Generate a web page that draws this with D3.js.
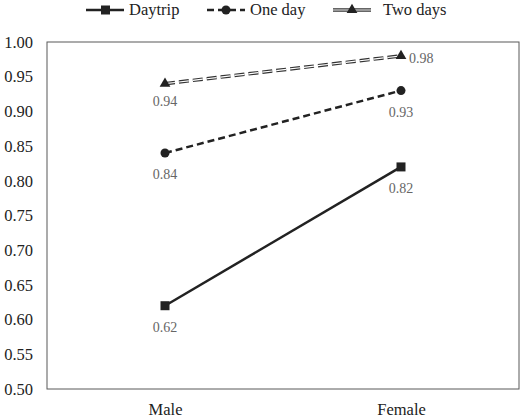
<!DOCTYPE html>
<html><head><meta charset="utf-8">
<script src="https://cdn.jsdelivr.net/npm/d3@7"></script>
<style>body{margin:0;background:#fff}text{font-family:"Liberation Serif","DejaVu Serif",serif}</style>
</head><body><div id="chart"></div>
<script>
const categories = ["Male", "Female"];
const seriesNames = ["Daytrip", "One day", "Two days"];
const daytrip = [0.62, 0.82];
const oneDay = [0.84, 0.93];
const twoDays = [0.94, 0.98];
const yTicks = [0.50, 0.55, 0.60, 0.65, 0.70, 0.75, 0.80, 0.85, 0.90, 0.95, 1.00];

const width = 520, height = 418;
const margin = { top: 42, right: 1, bottom: 29, left: 47 };
const svg = d3.select("#chart").append("svg").attr("width", width).attr("height", height);
const x = d3.scalePoint().domain(categories).range([margin.left, width - margin.right]).padding(0.5);
const y = d3.scaleLinear().domain([0.5, 1]).range([height - margin.bottom, margin.top]);

// frame
svg.append("rect").attr("x", margin.left).attr("y", margin.top)
  .attr("width", width - margin.left - margin.right).attr("height", y(0.5) - y(1))
  .attr("fill", "none").attr("stroke", "#595959").attr("stroke-width", 1);

const yAxis = svg.append("g").attr("transform", `translate(${margin.left},0)`)
  .call(d3.axisLeft(y).tickValues(yTicks).tickFormat(d3.format(".2f")).tickSize(0).tickPadding(14));
yAxis.select(".domain").remove();
yAxis.selectAll("text").attr("font-size", 16.5).attr("fill", "#222");

const xAxis = svg.append("g").attr("transform", `translate(0,${y(0.5)})`)
  .call(d3.axisBottom(x).tickSize(0).tickPadding(14));
xAxis.select(".domain").remove();
xAxis.selectAll("text").attr("font-size", 16.5).attr("fill", "#222");

const line = d3.line().x((d, i) => x(categories[i])).y(d => y(d));

// Daytrip
svg.append("path").datum(daytrip).attr("d", line).attr("fill", "none").attr("stroke", "#222").attr("stroke-width", 2.5);
svg.selectAll("rect.sq").data(daytrip).join("rect").attr("class", "sq")
  .attr("x", (d, i) => x(categories[i]) - 4.5).attr("y", d => y(d) - 4.5)
  .attr("width", 9).attr("height", 9).attr("fill", "#222");

// One day
svg.append("path").datum(oneDay).attr("d", line).attr("fill", "none").attr("stroke", "#222")
  .attr("stroke-width", 2.5).attr("stroke-dasharray", "7,4");
svg.selectAll("circle.od").data(oneDay).join("circle").attr("class", "od")
  .attr("cx", (d, i) => x(categories[i])).attr("cy", d => y(d)).attr("r", 4.5).attr("fill", "#222");

// Two days (double line)
svg.append("path").datum(twoDays).attr("d", line).attr("fill", "none").attr("stroke", "#333")
  .attr("stroke-width", 3.5).attr("stroke-dasharray", "10,4");
svg.append("path").datum(twoDays).attr("d", line).attr("fill", "none").attr("stroke", "#fff")
  .attr("stroke-width", 1.2).attr("stroke-dasharray", "10,4");
const tri = d3.symbol().type(d3.symbolTriangle).size(50);
svg.selectAll("path.tri").data(twoDays).join("path").attr("class", "tri").attr("d", tri)
  .attr("transform", (d, i) => `translate(${x(categories[i])},${y(d)})`).attr("fill", "#222");

// data labels
const labelPos = [
  { data: daytrip, dx: [0, 0], dy: [26, 26] },
  { data: oneDay, dx: [0, 0], dy: [26, 26] },
  { data: twoDays, dx: [0, 8], dy: [22, 7] }
];
labelPos.forEach(s => {
  s.data.forEach((v, i) => {
    svg.append("text").attr("x", x(categories[i]) + s.dx[i]).attr("y", y(v) + s.dy[i])
      .attr("text-anchor", s.dx[i] ? "start" : "middle")
      .attr("font-size", 14).attr("fill", "#666").text(d3.format(".2f")(v));
  });
});

// legend
const legend = svg.append("g").attr("transform", "translate(0,10)");
const legX = [86, 207, 333];
seriesNames.forEach((name, i) => {
  const g = legend.append("g").attr("transform", `translate(${legX[i]},0)`);
  if (i === 0) {
    g.append("line").attr("x1", 0).attr("x2", 38).attr("stroke", "#222").attr("stroke-width", 2.5);
    g.append("rect").attr("x", 15).attr("y", -4.5).attr("width", 9).attr("height", 9).attr("fill", "#222");
  } else if (i === 1) {
    g.append("line").attr("x1", 0).attr("x2", 38).attr("stroke", "#222").attr("stroke-width", 2.5).attr("stroke-dasharray", "7,4");
    g.append("circle").attr("cx", 19).attr("r", 4.5).attr("fill", "#222");
  } else {
    g.append("line").attr("x1", 0).attr("x2", 38).attr("stroke", "#333").attr("stroke-width", 3.5);
    g.append("line").attr("x1", 0).attr("x2", 38).attr("stroke", "#fff").attr("stroke-width", 1.2);
    g.append("path").attr("d", tri).attr("transform", "translate(19,0)").attr("fill", "#222");
  }
  g.append("text").attr("x", i === 2 ? 50 : 43).attr("y", 5).attr("font-size", 16.5).attr("fill", "#222").text(name);
});
</script></body></html>
